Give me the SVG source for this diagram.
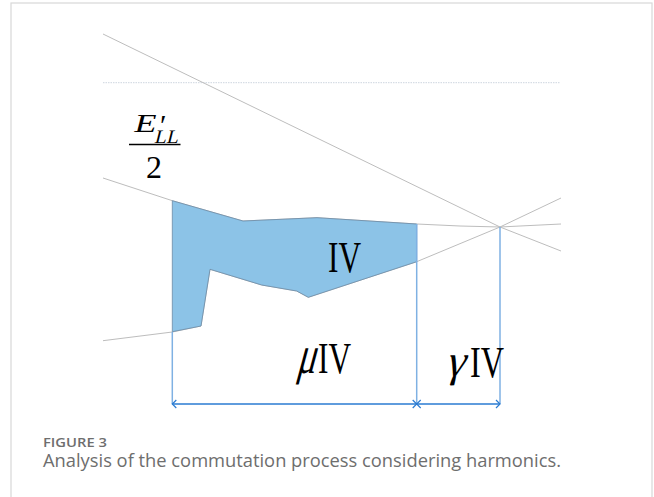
<svg xmlns="http://www.w3.org/2000/svg" width="654" height="497" viewBox="0 0 654 497">
<style>
.gray{fill:none;stroke:#bdbdbd;stroke-width:1}
.math{font-family:"Liberation Serif","DejaVu Serif",serif;fill:#000;font-style:normal}
.vert{stroke:#7fb1e3;stroke-width:1.5;fill:none}
.dim{stroke:#2a7bd2;stroke-width:1.3;fill:none;marker-start:url(#ah);marker-end:url(#ah)}
.cap{font-family:"Open Sans","Noto Sans",sans-serif;fill:#6e6e6e}
</style>
<defs>
<marker id="ah" viewBox="-6 -6 12 12" markerWidth="12" markerHeight="12" refX="0" refY="0" orient="auto-start-reverse" markerUnits="userSpaceOnUse">
<path d="M-4,-4 L0,0 L-4,4" fill="none" stroke="#2a7bd2" stroke-width="1.2"/>
</marker>
</defs>
<rect x="0" y="0" width="654" height="497" fill="#fff"/>
<rect x="11" y="3" width="641" height="520" fill="none" stroke="#d8d8d8" stroke-width="1.2"/>
<g id="curves">
<line x1="103" y1="82.7" x2="560" y2="82.7" stroke="#cdd6df" stroke-width="1" stroke-dasharray="1.5 1"/>
<polyline class="gray" points="103,34 500,227 561,251"/>
<polyline class="gray" points="103,178 172.3,200.7 243,221 317,217.7 416.7,224 460,226 500,227 561,224"/>
<polyline class="gray" points="103,340.7 172.3,332 201,326 210,269.3 261.7,285 296.7,291 308.3,297.3 416.7,261.7 500,227 561,198"/>
</g>
<g id="region-IV">
<polygon points="172.3,200.7 243,221 317,217.7 416.7,224 416.7,261.7 308.3,297.3 296.7,291 261.7,285 210,269.3 201,326 172.3,331.7" fill="#8cc3e7" stroke="#6b8aa6" stroke-width="0.8"/>
<text class="math" x="328" y="272" font-size="44" textLength="33" lengthAdjust="spacingAndGlyphs">IV</text>
</g>
<g id="label-E">
<text class="math" transform="translate(133,132) skewX(-14)" x="0" y="0" font-size="26" textLength="22" lengthAdjust="spacingAndGlyphs">E</text>
<text class="math" x="160" y="135" font-size="30">′</text>
<text class="math" transform="translate(154,143.3) skewX(-14)" x="0" y="0" font-size="19" textLength="24" lengthAdjust="spacingAndGlyphs">LL</text>
<line x1="129" y1="144.5" x2="180.5" y2="144.5" stroke="#000" stroke-width="1.4"/>
<text class="math" x="146" y="178" font-size="32">2</text>
</g>
<g id="connectors">
<line class="vert" x1="172.3" y1="332" x2="172.3" y2="404"/>
<line class="vert" x1="416.7" y1="224" x2="416.7" y2="404"/>
<line class="vert" x1="500" y1="227" x2="500" y2="404"/>
<line class="dim" x1="172.3" y1="404" x2="416.7" y2="404"/>
<line class="dim" x1="416.7" y1="404" x2="500" y2="404"/>
</g>
<g id="label-mu">
<text class="math" transform="translate(296,373) skewX(-15)" x="0" y="0" font-size="54" textLength="19" lengthAdjust="spacingAndGlyphs">μ</text>
<text class="math" x="318" y="373" font-size="44" textLength="33" lengthAdjust="spacingAndGlyphs">IV</text>
</g>
<g id="label-gamma">
<text class="math" transform="translate(445,376) skewX(-15)" x="0" y="0" font-size="45" textLength="19" lengthAdjust="spacingAndGlyphs">γ</text>
<text class="math" x="470" y="377" font-size="44" textLength="34" lengthAdjust="spacingAndGlyphs">IV</text>
</g>
<g id="caption">
<text class="cap" x="43" y="446.5" font-size="13" font-weight="600" textLength="64" lengthAdjust="spacingAndGlyphs">FIGURE 3</text>
<text class="cap" x="43" y="467" font-size="18" textLength="518" lengthAdjust="spacingAndGlyphs">Analysis of the commutation process considering harmonics.</text>
</g>
</svg>
